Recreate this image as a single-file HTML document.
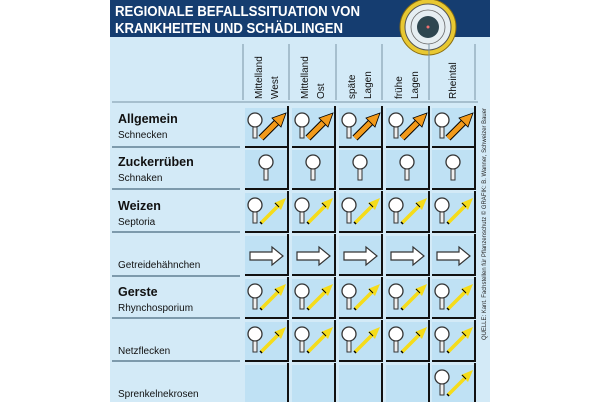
<!DOCTYPE html>
<html><head><meta charset="utf-8"><style>
html,body{margin:0;padding:0;background:#fff;}
svg{display:block;font-family:"Liberation Sans",sans-serif;}
</style></head><body>
<svg width="606" height="402" viewBox="0 0 606 402" xmlns="http://www.w3.org/2000/svg">
<defs>
<g id="mag"><circle cx="0" cy="0" r="7" fill="#fff" stroke="#333" stroke-width="1.3"/><rect x="-2" y="7" width="4" height="11" fill="#eee" stroke="#333" stroke-width="1"/></g>
<g id="oarr"><line x1="16" y1="30" x2="33" y2="13" stroke="#000" stroke-width="7"/><line x1="16" y1="30" x2="33" y2="13" stroke="#f29a1a" stroke-width="5"/><polygon points="41,5 27,10 36,19" fill="#f29a1a" stroke="#000" stroke-width="0.8"/></g>
<g id="yarr"><line x1="16" y1="30" x2="35" y2="11" stroke="#f5dc1a" stroke-width="3.5"/><polygon points="41,5 29,10 36,17" fill="#f5dc1a"/><line x1="15" y1="29" x2="17" y2="31" stroke="#000" stroke-width="1.5"/><line x1="30" y1="10" x2="34" y2="14" stroke="#000" stroke-width="1"/></g>
<g id="warr"><polygon points="5,16 27,16 27,11 38,20 27,29 27,24 5,24" fill="#fff" stroke="#333" stroke-width="1.2"/></g>
<g id="cell"><rect x="0" y="0" width="43" height="39" fill="#bfe1f4"/><line x1="43" y1="-2" x2="43" y2="40" stroke="#111" stroke-width="2"/><line x1="0" y1="39" x2="44" y2="39" stroke="#111" stroke-width="2"/></g>
<g id="c1"><use href="#cell"/><use href="#mag" x="10" y="12"/><use href="#oarr"/></g>
<g id="c2"><use href="#cell"/><use href="#mag" x="21" y="12"/></g>
<g id="c3"><use href="#cell"/><use href="#mag" x="10" y="12"/><use href="#yarr"/></g>
<g id="c4"><use href="#cell"/><use href="#warr"/></g>
</defs>
<rect x="110" y="36" width="380" height="366" fill="#d3eaf7"/>
<rect x="110" y="0" width="380" height="37" fill="#153d70"/>
<text x="115" y="16" font-size="15" font-weight="bold" fill="#fff" textLength="245" lengthAdjust="spacingAndGlyphs">REGIONALE BEFALLSSITUATION VON</text>
<text x="115" y="33" font-size="15" font-weight="bold" fill="#fff" textLength="228" lengthAdjust="spacingAndGlyphs">KRANKHEITEN UND SCHÄDLINGEN</text>
<circle cx="428" cy="27" r="28" fill="#e8c832" stroke="#8a6d10" stroke-width="1"/>
<circle cx="428" cy="27" r="23" fill="#e6eef2" stroke="#555" stroke-width="1"/>
<circle cx="428" cy="27" r="17" fill="none" stroke="#666" stroke-width="0.8"/>
<circle cx="428" cy="27" r="11" fill="#2e4650"/>
<circle cx="428" cy="27" r="1.5" fill="#f07070"/>
<g stroke="#7a94a6" stroke-width="1">
<line x1="243" y1="44" x2="243" y2="100"/><line x1="289" y1="44" x2="289" y2="100"/><line x1="336" y1="44" x2="336" y2="100"/><line x1="382" y1="44" x2="382" y2="100"/><line x1="429" y1="44" x2="429" y2="100"/><line x1="475" y1="44" x2="475" y2="100"/>
</g>
<line x1="112" y1="102" x2="478" y2="102" stroke="#7a94a6" stroke-width="1"/>
<g font-size="10" fill="#111">
<text transform="translate(262,99) rotate(-90)">Mittelland</text><text transform="translate(278,99) rotate(-90)">West</text>
<text transform="translate(308,99) rotate(-90)">Mittelland</text><text transform="translate(324,99) rotate(-90)">Ost</text>
<text transform="translate(355,99) rotate(-90)">späte</text><text transform="translate(371,99) rotate(-90)">Lagen</text>
<text transform="translate(402,99) rotate(-90)">frühe</text><text transform="translate(418,99) rotate(-90)">Lagen</text>
<text transform="translate(456,99) rotate(-90)">Rheintal</text>
</g>
<text transform="translate(486,340) rotate(-90)" font-size="6.3" fill="#222" textLength="232" lengthAdjust="spacingAndGlyphs">QUELLE: Kant. Fachstellen für Pflanzenschutz   © GRAFIK: B. Wanner, Schweizer Bauer</text>
<g stroke="#4a6a80" stroke-width="1.2">
<line x1="112" y1="147" x2="240" y2="147"/><line x1="112" y1="189" x2="240" y2="189"/><line x1="112" y1="232" x2="240" y2="232"/><line x1="112" y1="276" x2="240" y2="276"/><line x1="112" y1="318" x2="240" y2="318"/><line x1="112" y1="361" x2="240" y2="361"/>
</g>
<g fill="#111">
<text x="118" y="123" font-size="12.5" font-weight="bold">Allgemein</text><text x="118" y="138" font-size="10">Schnecken</text>
<text x="118" y="166" font-size="12.5" font-weight="bold">Zuckerrüben</text><text x="118" y="181" font-size="10">Schnaken</text>
<text x="118" y="210" font-size="12.5" font-weight="bold">Weizen</text><text x="118" y="225" font-size="10">Septoria</text>
<text x="118" y="268" font-size="10">Getreidehähnchen</text>
<text x="118" y="296" font-size="12.5" font-weight="bold">Gerste</text><text x="118" y="311" font-size="10">Rhynchosporium</text>
<text x="118" y="354" font-size="10">Netzflecken</text>
<text x="118" y="397" font-size="10">Sprenkelnekrosen</text>
</g>
<use href="#c1" x="245" y="108"/><use href="#c1" x="292" y="108"/><use href="#c1" x="339" y="108"/><use href="#c1" x="386" y="108"/><use href="#c1" x="432" y="108"/>
<use href="#c2" x="245" y="150"/><use href="#c2" x="292" y="150"/><use href="#c2" x="339" y="150"/><use href="#c2" x="386" y="150"/><use href="#c2" x="432" y="150"/>
<use href="#c3" x="245" y="193"/><use href="#c3" x="292" y="193"/><use href="#c3" x="339" y="193"/><use href="#c3" x="386" y="193"/><use href="#c3" x="432" y="193"/>
<use href="#c4" x="245" y="236"/><use href="#c4" x="292" y="236"/><use href="#c4" x="339" y="236"/><use href="#c4" x="386" y="236"/><use href="#c4" x="432" y="236"/>
<use href="#c3" x="245" y="279"/><use href="#c3" x="292" y="279"/><use href="#c3" x="339" y="279"/><use href="#c3" x="386" y="279"/><use href="#c3" x="432" y="279"/>
<use href="#c3" x="245" y="322"/><use href="#c3" x="292" y="322"/><use href="#c3" x="339" y="322"/><use href="#c3" x="386" y="322"/><use href="#c3" x="432" y="322"/>
<use href="#cell" x="245" y="365"/><use href="#cell" x="292" y="365"/><use href="#cell" x="339" y="365"/><use href="#cell" x="386" y="365"/><use href="#c3" x="432" y="365"/>
</svg>
</body></html>
